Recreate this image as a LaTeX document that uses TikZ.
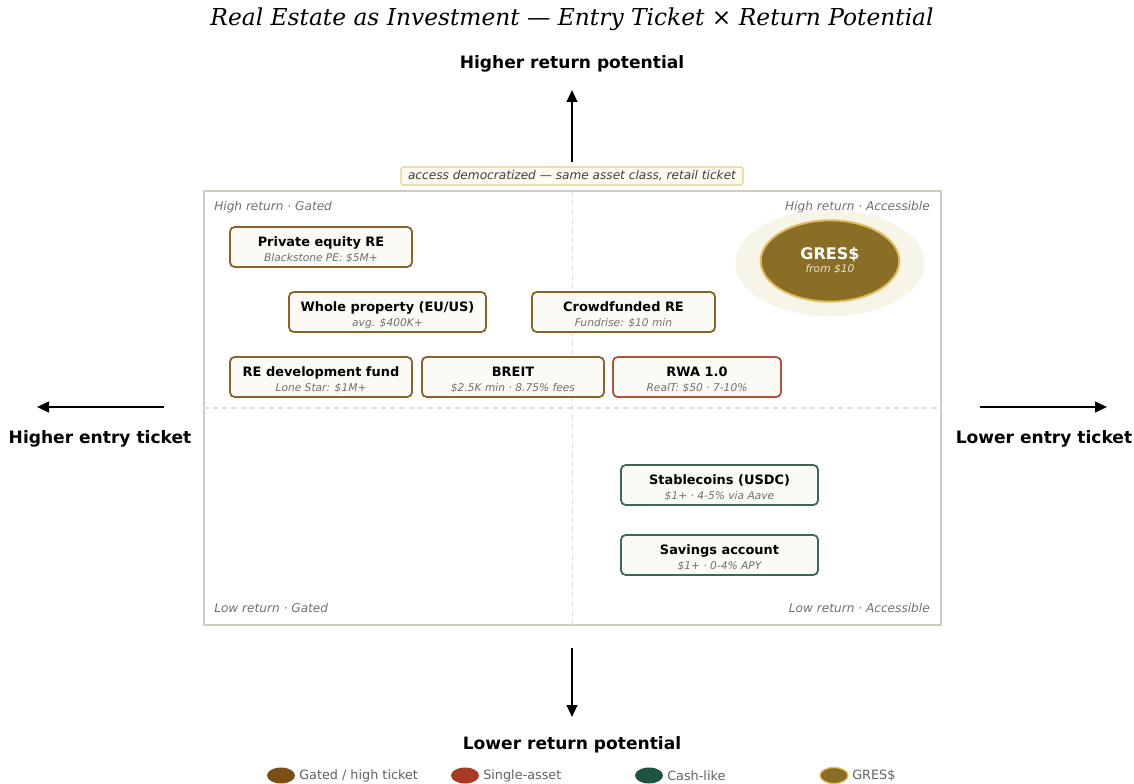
\documentclass[tikz,border=0pt]{standalone}
\usepackage{fontspec}
\setmainfont{DejaVu Sans}
\newfontfamily\titlefont{DejaVu Serif}
\usetikzlibrary{shapes.geometric,arrows.meta}
\definecolor{regated}{RGB}{122,79,20}
\definecolor{regatedline}{RGB}{140,98,40}
\definecolor{resingle}{RGB}{168,58,34}
\definecolor{resingleline}{RGB}{180,80,60}
\definecolor{recash}{RGB}{31,82,64}
\definecolor{recashline}{RGB}{60,105,85}
\definecolor{regres}{RGB}{138,110,38}
\definecolor{regold}{RGB}{222,190,96}
\definecolor{rehalo}{RGB}{247,244,232}
\definecolor{refill}{RGB}{252,250,245}
\definecolor{reframe}{RGB}{208,205,192}
\definecolor{regrid}{RGB}{222,222,222}
\definecolor{retext}{RGB}{112,112,112}
\definecolor{recapfill}{RGB}{253,250,240}
\definecolor{recapline}{RGB}{228,205,140}

\newcommand{\assetlabel}[2]{{\bfseries\fontsize{9.7}{11}\selectfont\rule{0pt}{12pt}#1}\\[-0.5pt]{\itshape\fontsize{8}{9}\selectfont\color{retext}#2}}

\tikzset{
  assetbox/.style={draw=#1, fill=refill, rounded corners=3.5pt, line width=1.35pt,
    minimum height=30pt, align=center, inner sep=0pt},
  quadlabel/.style={font=\itshape\fontsize{9.1}{11}\selectfont, text=retext, inner sep=0pt},
  axislabel/.style={font=\bfseries\fontsize{12.8}{14}\selectfont, inner sep=0pt},
  axisarrow/.style={line width=1.5pt, -{Triangle[length=9pt,width=8pt]}},
  legdot/.style={ellipse, fill=#1, minimum width=21pt, minimum height=12pt, inner sep=0pt},
  legtext/.style={anchor=west, font=\fontsize{9.6}{11}\selectfont, text=black!62, inner sep=0pt}
}

\begin{document}
\begin{tikzpicture}[x=0.75pt,y=-0.75pt]
\useasboundingbox (0,0) rectangle (1134,784);

% Title
\node[font=\titlefont\itshape\fontsize{17.5}{20}\selectfont] (title) at (572,19.5) {Real Estate as Investment — Entry Ticket × Return Potential};

% Frame and quadrant lines
\node[draw=reframe, line width=1pt, minimum width=552.75pt, minimum height=325.5pt, inner sep=0pt] (frame) at (572.5,408) {};
\draw[regrid, line width=0.8pt, dash pattern=on 4pt off 3pt] (frame.north) -- (frame.south);
\draw[regrid, line width=0.8pt, dash pattern=on 4pt off 3pt] (frame.west) -- (frame.east);

% Quadrant labels
\node[quadlabel, anchor=west] (qhg) at (214,207.5) {High return · Gated};
\node[quadlabel, anchor=east] (qha) at (930,207.5) {High return · Accessible};
\node[quadlabel, anchor=west] (qlg) at (214,608) {Low return · Gated};
\node[quadlabel, anchor=east] (qla) at (930,608) {Low return · Accessible};

% Axes
\node[axislabel] (hiret) at (572,63.5) {Higher return potential};
\node[axislabel] (loret) at (572,744.5) {Lower return potential};
\node[axislabel] (hitix) at (100,438.5) {Higher entry ticket};
\node[axislabel] (lotix) at (1044,438.5) {Lower entry ticket};
\coordinate (up0) at (572,162);
\coordinate (up1) at (572,90);
\coordinate (dn0) at (572,648);
\coordinate (dn1) at (572,717);
\coordinate (lt0) at (164,407);
\coordinate (lt1) at (37,407);
\coordinate (rt0) at (980,407);
\coordinate (rt1) at (1107,407);
\draw[axisarrow] (up0) -- (up1);
\draw[axisarrow] (dn0) -- (dn1);
\draw[axisarrow] (lt0) -- (lt1);
\draw[axisarrow] (rt0) -- (rt1);

% Caption
\node[draw=recapline, fill=recapfill, rounded corners=2pt, line width=0.8pt,
  font=\itshape\fontsize{9.1}{11}\selectfont, text=black!75,
  minimum width=256.5pt, minimum height=13.5pt, inner sep=0pt] (access) at (572,176)
  {access democratized — same asset class, retail ticket};

% Asset boxes
\foreach \name/\cx/\cy/\w/\col/\ttl/\sub in {
    pe/321/247/182/regatedline/Private equity RE/Blackstone PE: \$5M+,
    whole/387.5/312/197/regatedline/{Whole property (EU/US)}/avg. \$400K+,
    crowd/623.5/312/183/regatedline/Crowdfunded RE/Fundrise: \$10 min,
    devfund/321/377/182/regatedline/RE development fund/Lone Star: \$1M+,
    breit/513/377/182/regatedline/BREIT/\$2.5K min · 8.75\% fees,
    rwa/697/377/168/resingleline/RWA 1.0/RealT: \$50 · 7-10\%,
    usdc/719.5/485/197/recashline/Stablecoins (USDC)/\$1+ · 4-5\% via Aave,
    savings/719.5/555/197/recashline/Savings account/\$1+ · 0-4\% APY} {
    \node[assetbox=\col, minimum width=0.75*\w pt] (\name) at (\cx,\cy) {\assetlabel{\ttl}{\sub}};
}

% GRES$
\node[ellipse, fill=rehalo, minimum width=142pt, minimum height=80pt, inner sep=0pt] (halo) at (830,263) {};
\node[ellipse, fill=regres, draw=regold, line width=1.5pt, minimum width=104pt, minimum height=61pt, inner sep=0pt,
  align=center, text=white] (gres) at (830,261)
  {{\bfseries\fontsize{12}{13}\selectfont GRES\$}\\[-2pt]{\itshape\fontsize{8}{9}\selectfont\color{white!80!regres}from \$10}};

% Legend
\foreach \name/\cx/\col/\txt in {
    gated/281/regated/{Gated / high ticket},
    single/465/resingle/Single-asset,
    cash/649/recash/Cash-like} {
    \node[legdot=\col] (leg\name) at (\cx,775.5) {};
    \node[legtext] (legt\name) at (\cx+18,775.5) {\txt};
}
\node[legdot=regres, draw=regold, line width=1pt] (leggres) at (834,775.5) {};
\node[legtext] (legtgres) at (852,775.5) {GRES\$};
\end{tikzpicture}
\end{document}
